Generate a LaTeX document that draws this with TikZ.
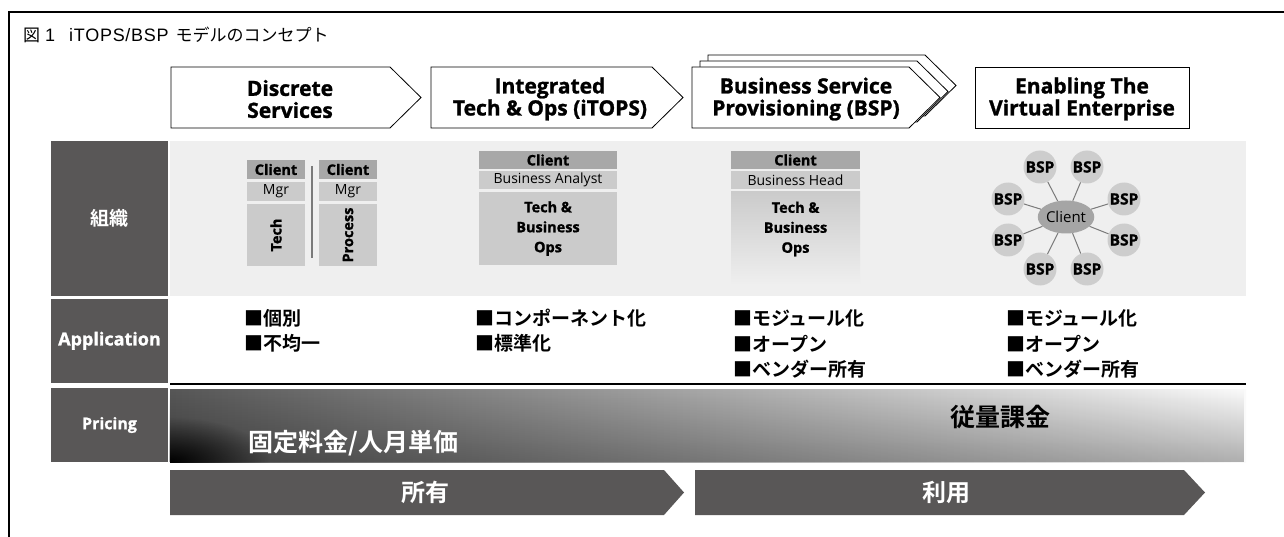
\documentclass[tikz,border=0pt]{standalone}
\usepackage{fontspec}
\setmainfont{Noto Sans CJK JP}[BoldFont={Noto Sans CJK JP Bold}]
\newfontfamily\lat{Open Sans}[BoldFeatures={FakeBold=1.2}]
\newfontfamily\titlelat{Liberation Sans}[LetterSpace=4]
\usetikzlibrary{shapes.geometric,fadings}
\definecolor{dk}{HTML}{595757}
\definecolor{lt}{HTML}{EFEFEF}
\definecolor{hd}{HTML}{A8A8A8}
\definecolor{md}{HTML}{CBCBCB}
\definecolor{circ}{HTML}{CDCDCD}
\definecolor{ell}{HTML}{A5A5A5}
\definecolor{spoke}{HTML}{7A7A7A}
\tikzfading[name=cornerfade, inner color=transparent!0, outer color=transparent!100]
\tikzfading[name=bottomdark, top color=transparent!100, bottom color=transparent!70]
\begin{document}
\begin{tikzpicture}[x=1pt,y=-1pt,
  hdrarrow/.style={draw=black,fill=white,line width=0.8pt,line join=miter},
  hdrtext/.style={font=\lat\bfseries\fontsize{21}{22}\selectfont,align=center,inner sep=0pt},
  rowlabel/.style={fill=dk,text=white,font=\lat\bfseries\fontsize{18}{20}\selectfont,inner sep=0pt,minimum width=117pt},
  hdcell/.style={fill=hd,font=\lat\bfseries\fontsize{14.5}{17}\selectfont,inner sep=0pt},
  mdcell/.style={fill=md,font=\lat\fontsize{14}{17}\selectfont,inner sep=0pt},
  opscell/.style={fill=md,font=\lat\bfseries\fontsize{14.5}{20}\selectfont,align=center,inner sep=0pt},
  rottext/.style={rotate=90,inner sep=0pt,font=\lat\bfseries\fontsize{14.5}{17}\selectfont},
  bsp/.style={circle,fill=circ,minimum size=33pt,inner sep=0pt,font=\lat\bfseries\fontsize{15.5}{17}\selectfont},
  apptext/.style={anchor=west,inner sep=0pt,font=\bfseries\fontsize{19}{20}\selectfont},
  pricetext/.style={inner sep=0pt,font=\bfseries\fontsize{25}{27}\selectfont},
  bigarrow/.style={fill=dk},
  bigtext/.style={inner sep=0pt,text=white,font=\bfseries\fontsize{24}{26}\selectfont}
]
\useasboundingbox (0,0) rectangle (1284,537);
\fill[white] (0,0) rectangle (1284,537);
% frame
\draw[line width=1.4pt] (9,537) -- (9,12) -- (1284,12);
% title
\node[anchor=west,inner sep=0pt,font=\fontsize{17}{19}\selectfont] (title) at (23,35)
  {図\hspace{5pt}{\titlelat\fontsize{18}{20}\selectfont 1\hspace{14pt}iTOPS/BSP}\hspace{7pt}モデルのコンセプト};

% header arrows
\draw[hdrarrow] (171,67) -- (390,67) -- (421,97.5) -- (390,128) -- (171,128) -- cycle;
\node[hdrtext] (h1) at (290,99) {Discrete\\Services};
\draw[hdrarrow] (431,67) -- (652,67) -- (683,97.5) -- (652,128) -- (431,128) -- cycle;
\node[hdrtext] (h2) at (550,99) {Integrated\\Tech \& Ops (iTOPS)};
\draw[hdrarrow] (708,55) -- (925,55) -- (956,85.5) -- (925,116) -- (708,116) -- cycle;
\draw[hdrarrow] (700,61) -- (917,61) -- (948,91.5) -- (917,122) -- (700,122) -- cycle;
\draw[hdrarrow] (692,67) -- (909,67) -- (940,97.5) -- (909,128) -- (692,128) -- cycle;
\node[hdrtext] (h3) at (806,99) {Business Service\\Provisioning (BSP)};
\draw[hdrarrow] (975,67) rectangle (1189,128);
\node[hdrtext] (h4) at (1082,99) {Enabling The\\Virtual Enterprise};

% row labels
\node[rowlabel,minimum height=155pt,font=\bfseries\fontsize{19}{20}\selectfont] (r1) at (109.5,218.5) {組織};
\node[rowlabel,minimum height=84.5pt] (r2) at (109.5,340.75) {Application};
\node[rowlabel,minimum height=74pt,font=\lat\bfseries\fontsize{16}{18}\selectfont] (r3) at (109.5,425) {Pricing};

% organisation row background
\fill[lt] (170,141) rectangle (1246,296);

% Discrete services stacks
\node[hdcell,minimum width=58pt,minimum height=19pt] (dc1) at (276,169.5) {Client};
\node[mdcell,minimum width=58pt,minimum height=19pt] (dm1) at (276,191.5) {Mgr};
\node[fill=md,minimum width=58pt,minimum height=62pt,inner sep=0pt] (dt1) at (276,235) {};
\node[rottext] (dt1t) at (dt1.center) {Tech};
\node[hdcell,minimum width=58pt,minimum height=19pt] (dc2) at (348,169.5) {Client};
\node[mdcell,minimum width=58pt,minimum height=19pt] (dm2) at (348,191.5) {Mgr};
\node[fill=md,minimum width=58pt,minimum height=62pt,inner sep=0pt] (dt2) at (348,235) {};
\node[rottext] (dt2t) at (dt2.center) {Process};
\draw[line width=1.5pt,color=spoke] (312,166) -- (312,258);

% iTOPS stack
\node[hdcell,minimum width=138pt,minimum height=18pt] (ic) at (548,160) {Client};
\node[mdcell,minimum width=138pt,minimum height=18pt] (ia) at (548,180) {Business Analyst};
\node[opscell,minimum width=138pt,minimum height=73pt] (io) at (548,228.5) {Tech \&\\Business\\Ops};

% BSP stack
\node[hdcell,minimum width=129pt,minimum height=18pt] (bc) at (795.5,160) {Client};
\node[mdcell,minimum width=129pt,minimum height=18pt] (bh) at (795.5,180) {Business Head};
\node[top color=md,bottom color=lt,minimum width=129pt,minimum height=93pt,inner sep=0pt] (bo) at (795.5,238.5) {};
\node[opscell,fill=none] (bot) at (795.5,229) {Tech \&\\Business\\Ops};

% virtual enterprise network
\node[ellipse,fill=ell,minimum width=51pt,minimum height=33pt,inner sep=0pt,font=\lat\fontsize{15}{17}\selectfont] (cl) at (1066,217) {Client};
\node[bsp] (b1) at (1040,167) {BSP};
\node[bsp] (b2) at (1087,167) {BSP};
\node[bsp] (b3) at (1124,199) {BSP};
\node[bsp] (b4) at (1124,240) {BSP};
\node[bsp] (b5) at (1087,269) {BSP};
\node[bsp] (b6) at (1040,269) {BSP};
\node[bsp] (b7) at (1008,240) {BSP};
\node[bsp] (b8) at (1008,199) {BSP};
\foreach \b in {b1,b2,b3,b4,b5,b6,b7,b8}
  \draw[spoke,line width=1pt] (cl) -- (\b);

% application row
\node[apptext] (a1) at (244,318) {■個別};
\node[apptext] (a2) at (244,343.5) {■不均一};
\node[apptext] (a3) at (475,318) {■コンポーネント化};
\node[apptext] (a4) at (475,343.5) {■標準化};
\node[apptext] (a5) at (733,318) {■モジュール化};
\node[apptext] (a6) at (733,343.5) {■オープン};
\node[apptext] (a7) at (733,369) {■ベンダー所有};
\node[apptext] (a8) at (1006,318) {■モジュール化};
\node[apptext] (a9) at (1006,343.5) {■オープン};
\node[apptext] (a10) at (1006,369) {■ベンダー所有};
\draw[line width=1.2pt] (170,384) -- (1246,384);

% pricing bar
\shade[left color=black!66,middle color=black!32,right color=black!2] (170,389) rectangle (1246,462);
\fill[black,path fading=bottomdark] (170,389) rectangle (1246,462);
\begin{scope}
  \clip (170,389) rectangle (1246,462);
  \fill[black,path fading=cornerfade] (170,462) ellipse [x radius=100pt, y radius=45pt];
\end{scope}
\node[pricetext,text=white] (p1) at (353.5,443) {固定料金/人月単価};
\node[pricetext] (p2) at (1000,417) {従量課金};

% bottom arrows
\fill[bigarrow] (170,470) -- (664,470) -- (684,492.5) -- (664,515) -- (170,515) -- cycle;
\node[bigtext] (o1) at (425,492.5) {所有};
\fill[bigarrow] (695,470) -- (1184,470) -- (1205,492.5) -- (1184,515) -- (695,515) -- cycle;
\node[bigtext] (o2) at (946,492.5) {利用};
\end{tikzpicture}
\end{document}
